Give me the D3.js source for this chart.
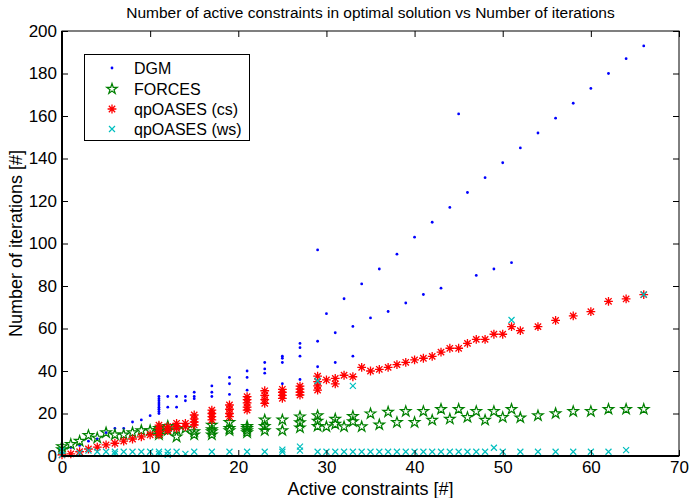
<!DOCTYPE html>
<html><head><meta charset="utf-8">
<script src="https://cdn.jsdelivr.net/npm/d3@7"></script>
<style>
html,body{margin:0;padding:0;background:#fff;}
svg{display:block;}
text{font-family:"Liberation Sans",Arial,Helvetica,sans-serif;fill:#000;}
</style></head>
<body>
<svg id="chart" width="689" height="498"></svg>
<script>
const titleText = "Number of active constraints in optimal solution vs Number of iterations";
const xLabel = "Active constraints [#]";
const yLabel = "Number of iterations [#]";
const xTicks = [0,10,20,30,40,50,60,70];
const yTicks = [0,20,40,60,80,100,120,140,160,180,200];
const seriesNames = ["DGM","FORCES","qpOASES (cs)","qpOASES (ws)"];

const dgm = [[0,3],[1,4],[2,5],[3,7],[4,8],[5,11],[6,13],[7,13],[8,16],[9,17],[10,19],
[11,20],[11,21],[11,22],[11,23],[11,24],[11,25],[11,26],[11,27],[11,28],
[12,23],[12,28],[13,23],[13,28],[14,26],[14,28],[15,27],[15,28],[15,30],
[17,28],[17,30],[17,33],[19,29],[19,34],[19,37],[21,31],[21,37],[21,40],[23,39],[23,41],[23,44],
[25,34],[25,44],[25,46],[25,47],[27,36],[27,47],[27,51],[27,53],[29,42],[29,54],[29,97],
[30,67],[31,44],[31,58],[32,74],[33,47],[33,61],[34,81],[35,65],[36,88],[37,68],[38,95],[39,72],
[40,103],[41,76],[42,110],[43,79],[44,117],[45,161],[46,124],[47,85],[48,131],[49,88],[50,138],
[51,91],[52,145],[54,152],[56,159],[58,166],[60,173],[62,180],[64,187],[66,193]];

const forces = [[0,3],[0,4.5],[1,5.5],[2,7],[3,9.7],[4,8.5],[5,11],[6,10],[7,10],[8,11],[9,12],[10,12],
[11,10],[11,11],[11,12],[11,13],[12,12],[12,14],[13,9],[13,12.5],[14,13],[15,10],[15,11.5],
[17,10],[17,11.5],[17,12.5],[17,14.6],[19,12],[19,13],[19,15.8],[21,11],[21,12],[21,13],[21,14],
[23,12],[23,14],[23,17],[25,12],[25,17],[27,13.3],[27,15.7],[27,18.5],[29,14],[29,16.5],[29,19],
[30,13.8],[31,15],[31,17.4],[32,13.8],[33,16.2],[33,18.7],[34,13.8],[35,19.9],[36,14.7],[37,20.7],
[38,15.8],[39,21],[40,15.8],[41,21],[42,16.9],[43,22],[44,17.4],[45,22],[46,18.2],[47,21],[48,16.9],
[49,21],[50,18.2],[51,22],[52,18],[54,19],[56,20],[58,21],[60,21],[62,22],[64,22],[66,22]];

const qpCs = [[0,0.5],[1,1],[2,2],[3,3.3],[4,4.2],[5,5.2],[6,6],[7,7],[8,8],[9,9],[10,10],
[11,10],[11,11.5],[11,13],[11,14.5],[12,12],[12,13.8],[13,13],[13,14],[13,15.4],[14,13.8],[14,15.4],
[15,14.6],[15,16],[15,17.5],[15,19.3],[17,17],[17,18.5],[17,20],[17,21.6],[19,18.5],[19,20],[19,22],[19,24],
[21,21.6],[21,23],[21,25],[21,26.5],[21,27.9],[23,24.8],[23,26.5],[23,28.5],[23,30.7],[25,27.1],[25,28.5],[25,30],[25,31.4],
[27,28.7],[27,30],[27,31.5],[27,32.9],[29,31],[29,33],[29,35],[29,37.6],[30,35.8],[31,33.9],[31,36.5],[32,38],[33,37.3],
[34,41.7],[35,40],[36,40.8],[37,41.7],[38,43],[39,44.1],[40,45.2],[41,46],[42,46.9],[43,48.9],[44,50.7],[45,50.7],
[46,53],[47,54.9],[48,54.9],[49,57.3],[50,57.3],[51,60.9],[52,59],[54,60.9],[56,63.8],[58,65.9],[60,67.9],
[62,72.8],[64,73.9],[66,75.9]];

const qpWs = [[0,0.5],[0,2.5],[2,1.5],[3,2.5],[4,2],[5,2],[6,1],[6,2],[7,2],[8,2],[9,2],[10,2],[11,1],[11,2],
[12,0.5],[12,2],[13,2],[14,1],[15,2],[17,2],[19,2],[21,2],[23,2],[25,2],[25,3],[27,2.5],[27,4.4],[29,2],[29,35.3],
[30,2],[31,2],[32,2],[33,2],[33,33],[34,2],[35,2],[36,2],[37,2],[38,2],[39,2],[40,2],[41,2],[42,2],[43,2],[44,2],
[45,2],[46,2],[47,2],[48,2],[49,3.9],[50,2],[51,64],[52,2],[54,2],[56,2],[58,2],[60,2],[62,2],[64,2.8],[66,76]];

const colors = {dgm:"#0000ff", forces:"#008000", cs:"#ff0000", ws:"#00bfbf"};

const W = 689, H = 498;
const L = 62, R = 679, T = 31, B = 456;
const svg = d3.select("#chart");
const x = d3.scaleLinear().domain([0,70]).range([L,R]);
const y = d3.scaleLinear().domain([0,200]).range([B,T]);

function starPath(ro){
  const ri = ro*0.382; let p="";
  for(let i=0;i<10;i++){
    const r = i%2===0?ro:ri;
    const a = -Math.PI/2 + i*Math.PI/5;
    p += (i===0?"M":"L") + (r*Math.cos(a)).toFixed(2)+","+(r*Math.sin(a)).toFixed(2);
  }
  return p+"Z";
}
const asterisk = (s)=>`M${-s},0L${s},0M0,${-s}L0,${s}M${-s*0.72},${-s*0.72}L${s*0.72},${s*0.72}M${-s*0.72},${s*0.72}L${s*0.72},${-s*0.72}`;
const cross = (s)=>`M${-s},${-s}L${s},${s}M${-s},${s}L${s},${-s}`;

const plot = svg.append("g");
function drawDots(g,data){
  g.selectAll("circle").data(data).join("circle")
   .attr("cx",d=>x(d[0])).attr("cy",d=>y(d[1])).attr("r",1.4).attr("fill",colors.dgm);
}
function drawPath(g,data,path,color,sw){
  g.selectAll("path").data(data).join("path")
   .attr("transform",d=>`translate(${x(d[0])},${y(d[1])})`)
   .attr("d",path).attr("fill","none").attr("stroke",color).attr("stroke-width",sw);
}
drawDots(plot.append("g"),dgm);
drawPath(plot.append("g"),forces,starPath(5.5),colors.forces,1.2);
drawPath(plot.append("g"),qpCs,asterisk(4.4),colors.cs,1.3);
drawPath(plot.append("g"),qpWs,cross(3),colors.ws,1.2);

const fs = 17;
const gx = svg.append("g").attr("transform",`translate(0,${B})`)
  .call(d3.axisBottom(x).tickValues(xTicks).tickSize(-6).tickSizeOuter(0).tickPadding(5));
const gy = svg.append("g").attr("transform",`translate(${L},0)`)
  .call(d3.axisLeft(y).tickValues(yTicks).tickSize(-6).tickSizeOuter(0).tickPadding(5));
const gxt = svg.append("g").attr("transform",`translate(0,${T})`)
  .call(d3.axisTop(x).tickValues(xTicks).tickSize(-6).tickSizeOuter(0).tickFormat(""));
const gyr = svg.append("g").attr("transform",`translate(${R},0)`)
  .call(d3.axisRight(y).tickValues(yTicks).tickSize(-6).tickSizeOuter(0).tickFormat(""));
[gx,gy,gxt,gyr].forEach(g=>{
  g.select(".domain").remove();
  g.selectAll(".tick line").attr("stroke","#000").attr("stroke-width",1);
  g.selectAll("text").attr("font-size",fs).attr("font-family","Liberation Sans, Arial, sans-serif").attr("fill","#000");
});
svg.append("rect").attr("x",L).attr("y",T).attr("width",R-L).attr("height",B-T)
  .attr("fill","none").attr("stroke","#000").attr("stroke-width",1);
svg.append("line").attr("x1",L).attr("x2",L).attr("y1",T).attr("y2",B+0.5).attr("stroke","#000").attr("stroke-width",2);
svg.append("line").attr("x1",L-0.5).attr("x2",R).attr("y1",B).attr("y2",B).attr("stroke","#000").attr("stroke-width",2);

svg.append("text").attr("x",(L+R)/2).attr("y",18).attr("text-anchor","middle").attr("font-size",15.5).text(titleText);
svg.append("text").attr("x",(L+R)/2).attr("y",495).attr("text-anchor","middle").attr("font-size",18).text(xLabel);
svg.append("text").attr("transform",`translate(22,${(T+B)/2}) rotate(-90)`).attr("text-anchor","middle").attr("font-size",18).text(yLabel);

const lg = svg.append("g");
lg.append("rect").attr("x",84.5).attr("y",54.5).attr("width",165).attr("height",86).attr("fill","#fff").attr("stroke","#000").attr("stroke-width",1);
const rowsY = [68,89,109,129];
seriesNames.forEach((name,i)=>{
  const cy = rowsY[i], cx = 112;
  if(i===0) lg.append("circle").attr("cx",cx).attr("cy",cy).attr("r",1.4).attr("fill",colors.dgm);
  if(i===1) lg.append("path").attr("transform",`translate(${cx},${cy})`).attr("d",starPath(5.5)).attr("fill","none").attr("stroke",colors.forces).attr("stroke-width",1.2);
  if(i===2) lg.append("path").attr("transform",`translate(${cx},${cy})`).attr("d",asterisk(4.4)).attr("fill","none").attr("stroke",colors.cs).attr("stroke-width",1.3);
  if(i===3) lg.append("path").attr("transform",`translate(${cx},${cy})`).attr("d",cross(3)).attr("fill","none").attr("stroke",colors.ws).attr("stroke-width",1.2);
  lg.append("text").attr("x",134).attr("y",cy).attr("dy","0.36em").attr("font-size",16).text(name);
});
</script>
</body></html>
